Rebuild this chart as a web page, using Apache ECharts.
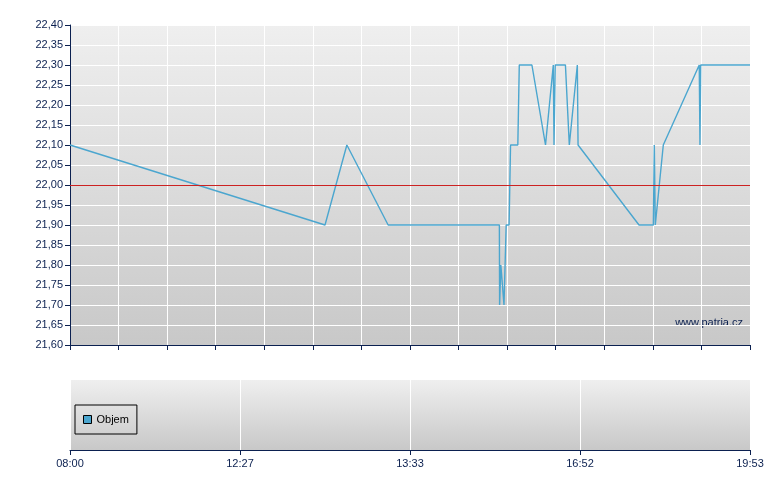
<!DOCTYPE html>
<html>
<head>
<meta charset="utf-8">
<script src="https://cdn.jsdelivr.net/npm/echarts@6/dist/echarts.min.js"></script>
<style>
  html, body { margin: 0; padding: 0; background: #fff; }
  #chart { width: 780px; height: 490px; }
</style>
</head>
<body>
<div id="chart"></div>
<script>
// pozice na ose (0 = 08:00, 140 = 19:53) a cena
var posX = [0, 52.5, 57.0, 65.5, 88.4, 88.45, 88.7, 89.35, 89.8, 90.4, 90.7, 92.2, 92.5, 95.1,
  97.9, 98.2, 99.5, 99.65, 99.9, 102.0, 102.8, 103.2, 104.45, 104.6, 117.15, 120.1, 120.3,
  120.5, 120.8, 122.15, 129.55, 129.7, 129.85, 140];
var price = [22.10, 21.90, 22.10, 21.90, 21.90, 21.70, 21.80, 21.70, 21.90, 21.90, 22.10, 22.10, 22.30, 22.30,
  22.10, 22.10, 22.30, 22.10, 22.30, 22.30, 22.10, 22.10, 22.30, 22.10, 21.90, 21.90, 22.10,
  21.90, 21.90, 22.10, 22.30, 22.10, 22.30, 22.30];
var timeLabels = ["08:00", "12:27", "13:33", "16:52", "19:53"];
var refPrice = 22.00;

var navy = "#0b2050";
var chart = echarts.init(document.getElementById("chart"));

function bgGradient() {
  return new echarts.graphic.LinearGradient(0, 0, 0, 1, [
    { offset: 0, color: "#efefef" },
    { offset: 1, color: "#c8c8c8" }
  ]);
}

var lineData = posX.map(function (x, i) { return [x, price[i]]; });

var option = {
  animation: false,
  textStyle: { fontFamily: "Liberation Sans, Arial, sans-serif" },
  grid: [
    { left: 70, top: 25, width: 680, height: 320, show: true, borderWidth: 0, backgroundColor: bgGradient() },
    { left: 70, top: 380, width: 680, height: 70, show: true, borderWidth: 0, backgroundColor: bgGradient() }
  ],
  legend: {
    data: ["Objem"],
    left: 75,
    top: 405,
    orient: "horizontal",
    borderColor: "#000",
    borderWidth: 1,
    borderRadius: 0,
    shadowBlur: 0,
    shadowColor: "transparent",
    backgroundColor: "transparent",
    padding: [9, 8],
    itemWidth: 8,
    itemHeight: 8,
    itemGap: 5,
    icon: "rect",
    itemStyle: { borderColor: "#000", borderWidth: 1 },
    textStyle: { fontSize: 11, color: "#000" },
    selectedMode: false
  },
  xAxis: [
    {
      type: "value", gridIndex: 0, min: 0, max: 140, interval: 10,
      axisLine: { show: true, onZero: false, lineStyle: { color: navy, width: 1 } },
      axisTick: { show: true, length: 5, lineStyle: { color: navy } },
      axisLabel: { show: false },
      splitLine: { show: true, lineStyle: { color: "#ffffff", width: 1 } }
    },
    {
      type: "value", gridIndex: 1, min: 0, max: 140, interval: 35,
      axisLine: { show: true, onZero: false, lineStyle: { color: navy, width: 1 } },
      axisTick: { show: true, length: 5, lineStyle: { color: navy } },
      axisLabel: {
        show: true, fontSize: 11, color: navy, margin: 8,
        formatter: function (v) { return timeLabels[Math.round(v / 35)]; }
      },
      splitLine: { show: true, lineStyle: { color: "#ffffff", width: 1 } }
    }
  ],
  yAxis: [
    {
      type: "value", gridIndex: 0, min: 21.6, max: 22.4, interval: 0.05,
      axisLine: { show: true, lineStyle: { color: navy, width: 1 } },
      axisTick: { show: true, length: 5, lineStyle: { color: navy } },
      axisLabel: {
        fontSize: 11, color: navy, margin: 7,
        formatter: function (v) { return v.toFixed(2).replace(".", ","); }
      },
      splitLine: { show: true, lineStyle: { color: "#ffffff", width: 1 } }
    },
    {
      type: "value", gridIndex: 1, min: 0, max: 1,
      axisLine: { show: false }, axisTick: { show: false },
      axisLabel: { show: false }, splitLine: { show: false }
    }
  ],
  graphic: [
    {
      type: "text", right: 37, top: 317,
      style: { text: "www.patria.cz", fill: navy, font: "11px Liberation Sans, Arial, sans-serif" }
    }
  ],
  series: [
    {
      name: "Cena",
      type: "line",
      xAxisIndex: 0, yAxisIndex: 0,
      data: lineData,
      showSymbol: false,
      lineStyle: { color: "#4ba6cf", width: 1.4 },
      markLine: {
        silent: true,
        symbol: "none",
        label: { show: false },
        lineStyle: { color: "#cc2222", width: 1, type: "solid" },
        data: [{ yAxis: refPrice }]
      },
      z: 3
    },
    {
      name: "Objem",
      type: "bar",
      xAxisIndex: 1, yAxisIndex: 1,
      data: [],
      itemStyle: { color: "#4ba6cf" }
    }
  ]
};

chart.setOption(option);
</script>
</body>
</html>
